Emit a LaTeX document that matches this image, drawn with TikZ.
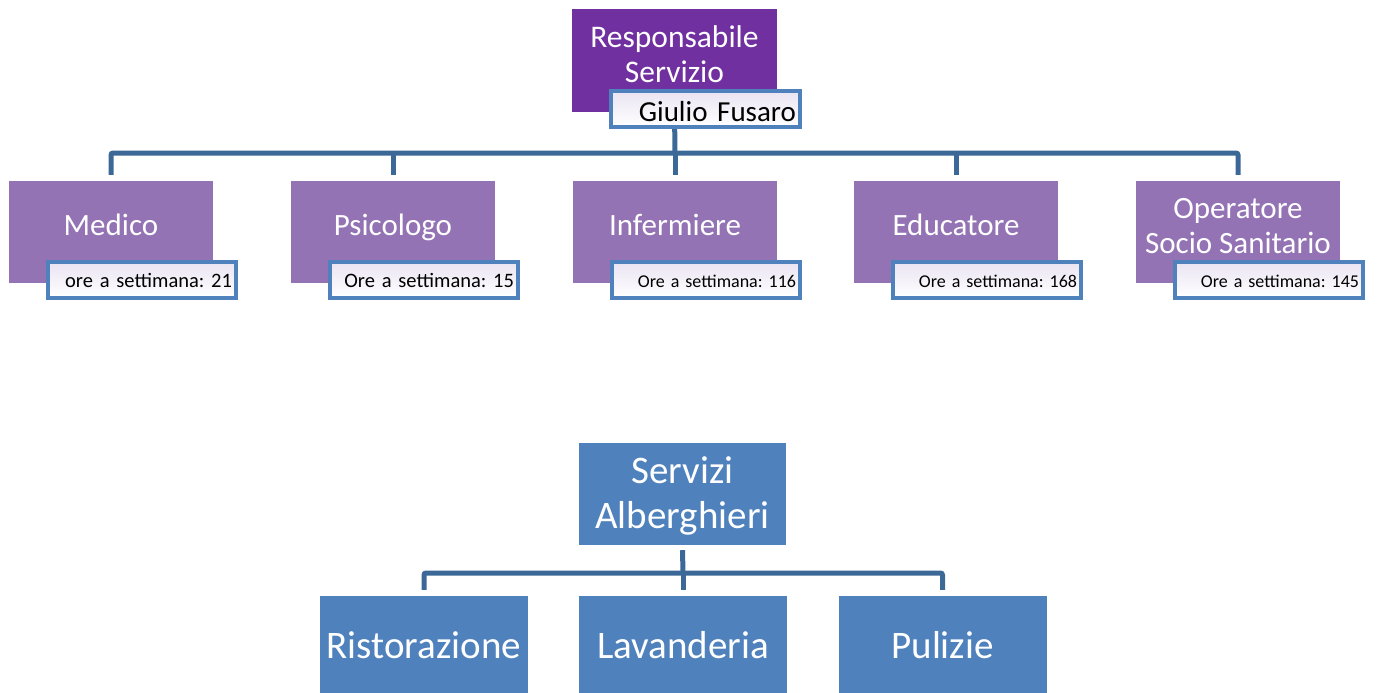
\documentclass[tikz,border=0pt]{standalone}
\usepackage{fontspec}
\setmainfont{Carlito}
\usetikzlibrary{backgrounds}
\frenchspacing
\definecolor{darkpurp}{HTML}{7030A0}
\definecolor{midpurp}{HTML}{9473B5}
\definecolor{boxblue}{HTML}{4F81BD}
\definecolor{lineblue}{HTML}{3C6898}
\definecolor{lav}{HTML}{EAE4F2}
\newcommand{\mktwo}[4]{\raisebox{0pt}[#1][#2]{\begin{tabular}[b]{@{}c@{}}#3\\#4\end{tabular}}}
\tikzset{
  x=1pt, y=-1pt,
  topbox/.style={rectangle, fill=darkpurp, text=white, minimum width=205pt, minimum height=103pt, align=center, font=\fontsize{31.5}{35}\selectfont, inner sep=0pt},
  rolebox/.style={rectangle, fill=midpurp, text=white, minimum width=204pt, minimum height=102pt, align=center, font=\fontsize{31}{35}\selectfont, inner sep=0pt},
  oneline/.style={text height=22pt, text depth=16pt},
  hourbox/.style={rectangle, draw=boxblue, line width=4pt, top color=lav, bottom color=white, minimum width=188pt, minimum height=36pt, text width=180pt, align=right, inner sep=2pt, text=black, text height=16pt, text depth=2pt},
  bighours/.style={font=\fontsize{20.5}{22}\selectfont},
  smallhours/.style={font=\fontsize{18}{20}\selectfont},
  servbox/.style={rectangle, fill=boxblue, text=white, minimum width=208pt, minimum height=102pt, align=center, font=\fontsize{39}{45}\selectfont, inner sep=0pt},
  conn/.style={draw=lineblue, line width=5pt, rounded corners=2pt},
}
\begin{document}
\begin{tikzpicture}
\useasboundingbox (0,0) rectangle (1378,693);
% top part
\node[topbox] (resp) at (674.5,60.5) {\mktwo{50pt}{7pt}{Responsabile}{Servizio}};
\node[rolebox, oneline] (med) at (111,232) {Medico};
\node[rolebox, oneline] (psi) at (393,232) {Psicologo};
\node[rolebox, oneline] (inf) at (675,232) {Infermiere};
\node[rolebox, oneline] (edu) at (956,232) {Educatore};
\node[rolebox] (oss) at (1238,232) {\mktwo{50pt}{8pt}{Operatore}{Socio Sanitario}};
\node[hourbox, font=\fontsize{29}{31}\selectfont, minimum width=189pt, text width=181pt, text height=24pt, text depth=0pt] (giu) at (705.5,109) {Giulio Fusaro};
\node[hourbox, bighours] (hmed) at (142,280) {ore a settimana: 21};
\node[hourbox, bighours] (hpsi) at (424,280) {Ore a settimana: 15};
\node[hourbox, smallhours] (hinf) at (706,280) {Ore a settimana: 116};
\node[hourbox, smallhours] (hedu) at (987,280) {Ore a settimana: 168};
\node[hourbox, smallhours] (hoss) at (1269,280) {Ore a settimana: 145};
\coordinate (hub) at (675,153);
\begin{scope}[on background layer]
\draw[conn] (resp.south) -- (hub);
\draw[conn] ([yshift=6pt]med.north) -- (med.north |- hub) -- (oss.north |- hub) -- ([yshift=6pt]oss.north);
\draw[conn] (psi.north |- hub) -- ([yshift=6pt]psi.north);
\draw[conn] (inf.north |- hub) -- ([yshift=6pt]inf.north);
\draw[conn] (edu.north |- hub) -- ([yshift=6pt]edu.north);
\end{scope}
% bottom part
\node[servbox, minimum width=207pt] (serv) at (682.5,494) {\mktwo{76pt}{8pt}{Servizi}{Alberghieri}};
\node[servbox, minimum height=104pt, text height=30pt, text depth=10pt] (rist) at (424,648) {Ristorazione};
\node[servbox, minimum height=104pt, text height=30pt, text depth=10pt] (lav) at (683,648) {Lavanderia};
\node[servbox, minimum height=104pt, text height=30pt, text depth=10pt] (pul) at (942.5,648) {Pulizie};
\coordinate (hub2) at (683,573);
\draw[conn] ([yshift=-5pt]serv.south) -- (hub2);
\draw[conn] ([yshift=6pt]rist.north) -- (rist.north |- hub2) -- (pul.north |- hub2) -- ([yshift=6pt]pul.north);
\draw[conn] (lav.north |- hub2) -- ([yshift=6pt]lav.north);
\end{tikzpicture}
\end{document}
